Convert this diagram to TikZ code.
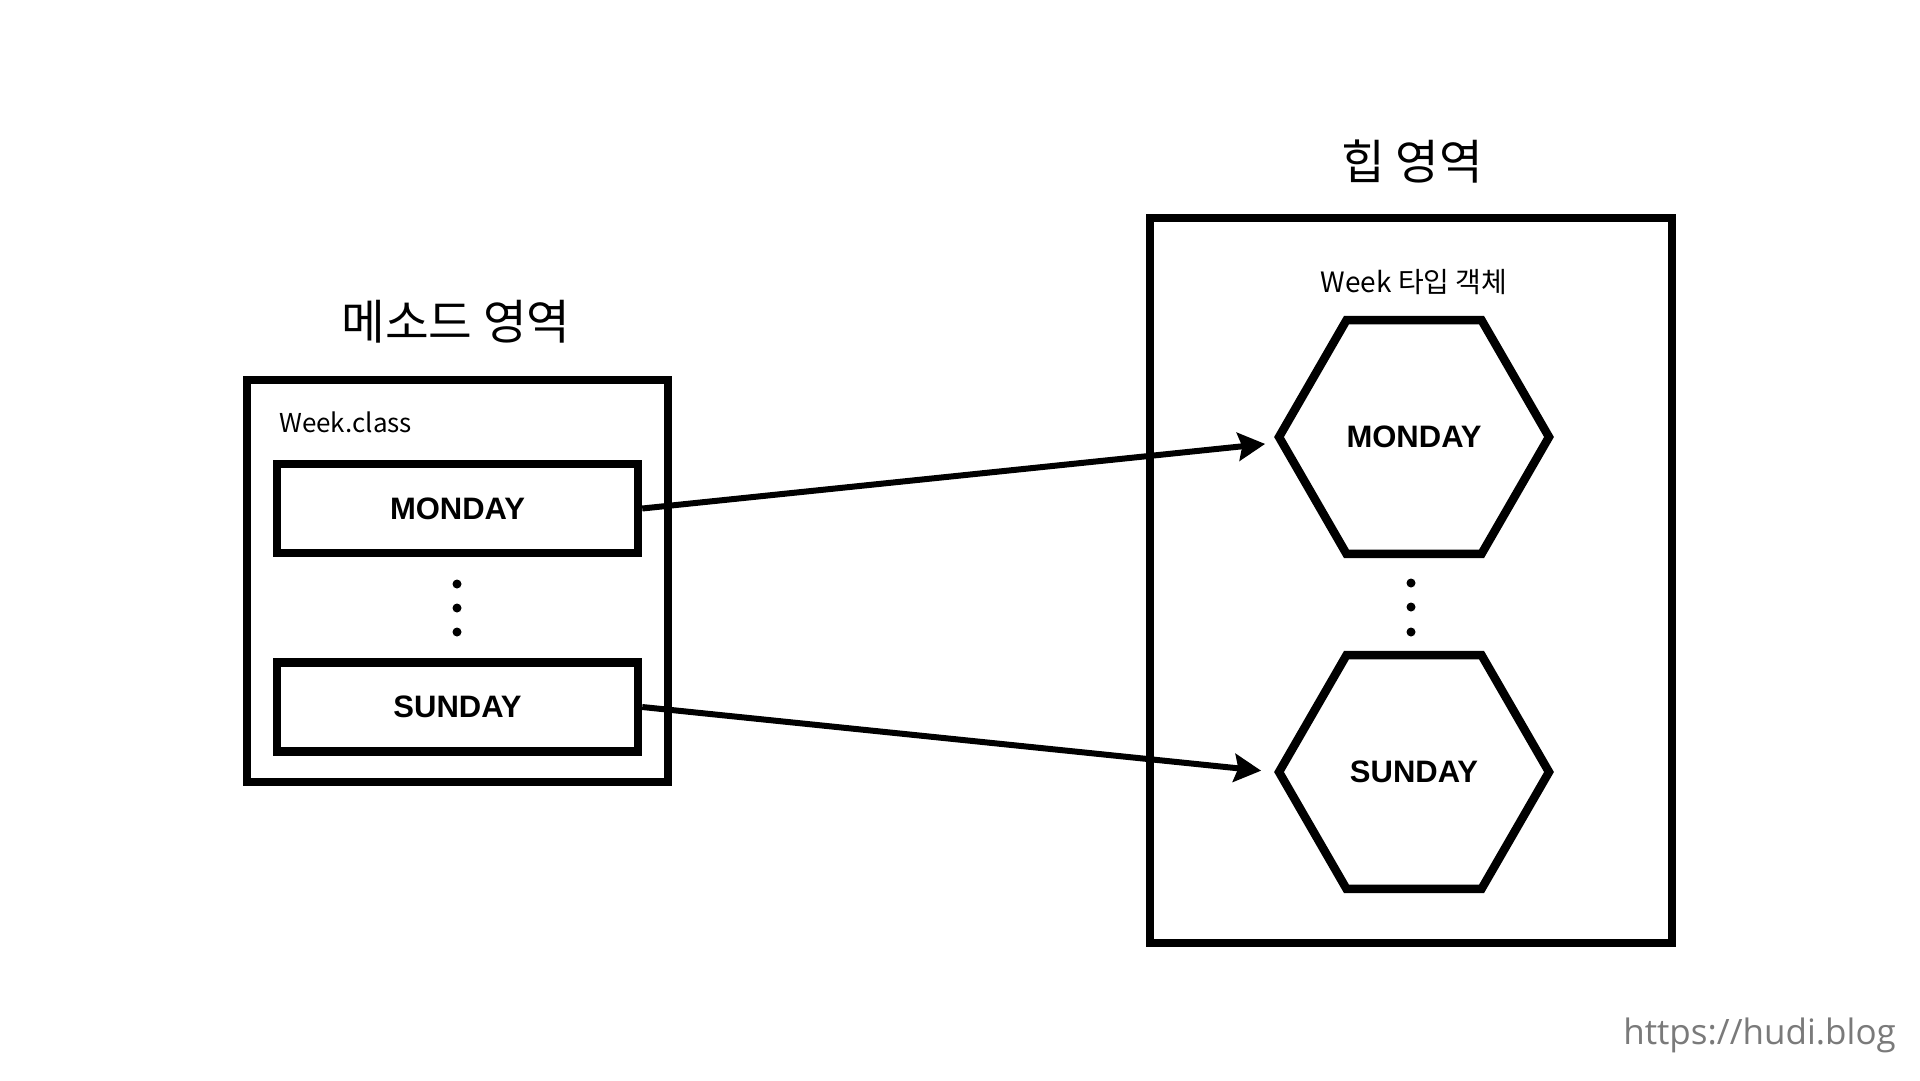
\documentclass[tikz,border=0pt]{standalone}
\usepackage{fontspec}
\usetikzlibrary{shapes.geometric,arrows.meta}
\newfontfamily\krfont{Noto Sans CJK KR}
\newfontfamily\labfont{Liberation Sans}
\newfontfamily\wmfont{Open Sans}
\definecolor{wmgray}{HTML}{7A7A7A}
\begin{document}
\begin{tikzpicture}[x=1pt,y=-1pt,
  regionbox/.style={draw=black,line width=8.5pt,inner sep=0pt},
  itembox/.style={draw=black,line width=8.5pt,inner sep=0pt,minimum width=361pt,minimum height=89pt,font=\labfont\bfseries\fontsize{31}{36}\selectfont},
  hexnode/.style={draw=black,line width=8.5pt,regular polygon,regular polygon sides=6,minimum size=270pt,inner sep=0pt,font=\labfont\bfseries\fontsize{31}{36}\selectfont},
  titletext/.style={font=\krfont\fontsize{47.5}{56}\selectfont,anchor=base,inner sep=0pt},
  captext/.style={font=\krfont\fontsize{28}{34}\selectfont,inner sep=0pt},
  dotnode/.style={circle,fill=black,inner sep=0pt,minimum size=9pt},
  arr/.style={line width=6pt,-{Stealth[length=27pt,width=28pt,inset=4pt]}}
]
\useasboundingbox (0,0) rectangle (1920,1080);
\fill[white] (0,0) rectangle (1920,1080);

% method area
\node[titletext] (mtitle) at (456,339) {메소드 영역};
\node[regionbox,minimum width=421pt,minimum height=402pt] (method) at (457.5,581) {};
\node[captext,anchor=base west,font=\krfont\fontsize{26}{32}\selectfont] (mcap) at (279,432) {Week.class};
\node[itembox] (mon) at (457.5,508.5) {MONDAY};
\node[itembox] (sun) at (457.5,707) {SUNDAY};
\node[dotnode] (d1) at (457,584) {};
\node[dotnode] (d2) at (457,608) {};
\node[dotnode] (d3) at (457,632) {};

% heap area
\node[titletext] (htitle) at (1412,179) {힙 영역};
\node[regionbox,minimum width=522pt,minimum height=725pt] (heap) at (1411,580.5) {};
\node[captext,anchor=base] (hcap) at (1414,292) {Week 타입 객체};
\node[hexnode] (hmon) at (1414,437) {MONDAY};
\node[hexnode] (hsun) at (1414,772) {SUNDAY};
\node[dotnode] (e1) at (1411,583) {};
\node[dotnode] (e2) at (1411,607) {};
\node[dotnode] (e3) at (1411,632) {};

% arrows
\draw[arr,shorten >=9pt] (mon.east) -- ([yshift=-6pt]hmon.west);
\draw[arr,shorten >=13pt] (sun.east) -- (hsun.west);

% watermark
\node[anchor=base east,font=\wmfont\fontsize{35}{40}\selectfont,text=wmgray,inner sep=0pt] (wm) at (1896,1044) {https://hudi.blog};
\end{tikzpicture}
\end{document}
